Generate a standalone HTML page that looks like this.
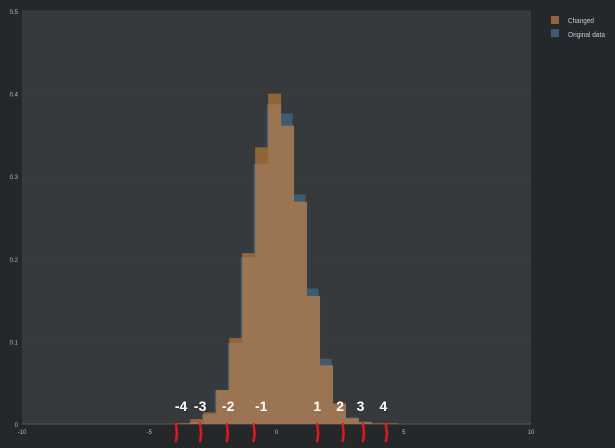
<!DOCTYPE html>
<html><head><meta charset="utf-8"><style>
body{margin:0;background:#25282b;width:615px;height:443px;overflow:hidden;font-family:"Liberation Sans",sans-serif}
</style></head><body>
<svg id="chart" width="615" height="443" xmlns="http://www.w3.org/2000/svg">
<rect x="0" y="0" width="615" height="443" fill="#25282b"/>
<rect x="22" y="11" width="509" height="413" fill="#363a3d"/>
<g id="grid"></g><g id="bars"></g><g id="axes"></g>
<g>
<rect x="551" y="16" width="8" height="8" fill="#8f6539"/>
<text x="568" y="23" fill="#c8c8c8" font-size="7" textLength="26" lengthAdjust="spacingAndGlyphs">Changed</text>
<rect x="551" y="29" width="8" height="8" fill="#3d5b73"/>
<text x="568" y="37" fill="#c8c8c8" font-size="7" textLength="37" lengthAdjust="spacingAndGlyphs">Original data</text>
</g>
<g id="annot"></g>
</svg>
<script>
const origStart=-3.96, changedStart=-3.9, binW=0.51;
const originalValues=[0.0005,0.002,0.012,0.041,0.098,0.202,0.315,0.387,0.376,0.278,0.164,0.079,0.024,0.008,0.003];
const changedValues=[0.001,0.006,0.014,0.041,0.104,0.207,0.335,0.400,0.361,0.269,0.155,0.071,0.025,0.007,0.002,0.001,0.001];
const xTicks=[-10,-5,0,5,10];
const yTicks=[0,0.1,0.2,0.3,0.4,0.5];
const yTickLabels=["0","0.1","0.2","0.3","0.4","0.5"];
const annotLabels=["-4","-3","-2","-1","1","2","3","4"];
const annotValues=[-3.75,-3,-1.9,-0.6,1.6,2.5,3.3,4.2];
const markValues=[-3.95,-3,-1.95,-0.9,1.6,2.6,3.4,4.3];
const NS="http://www.w3.org/2000/svg";
const X=v=>276.5+v*25.45, Y=v=>424-v*826;
function mk(t,a,p){const e=document.createElementNS(NS,t);for(const k in a)e.setAttribute(k,a[k]);p.appendChild(e);return e;}
const grid=document.getElementById('grid'),bars=document.getElementById('bars'),axes=document.getElementById('axes'),annot=document.getElementById('annot');
yTicks.forEach((v,i)=>{
 const l=mk('line',{x1:22,x2:531,y1:Y(v),y2:Y(v),stroke:i==0?'#55595c':'#393d40','stroke-width':1},grid);
 
 
 const t=mk('text',{x:18,y:Y(v)+3,fill:'#bbb','font-size':6,'text-anchor':'end'},axes);
 
 
 t.textContent=yTickLabels[i];
});
xTicks.forEach(v=>{
 const t=mk('text',{x:X(v),y:434,fill:'#bbb','font-size':6,'text-anchor':'middle'},axes);
 
 
 t.textContent=v;
});
originalValues.forEach((v,i)=>{
 const x0=X(origStart+i*binW),x1=X(origStart+(i+1)*binW);
 const r=mk('rect',{x:x0,y:Y(v),width:x1-x0,height:424-Y(v),fill:'#3d5b73'},bars);
 
 
});
changedValues.forEach((v,i)=>{
 const x0=X(changedStart+i*binW),x1=X(changedStart+(i+1)*binW);
 const r=mk('rect',{x:x0,y:Y(v),width:x1-x0,height:424-Y(v),fill:'#8f6539'},bars);
 
 
});
changedValues.forEach((v,i)=>{
 const c=changedStart+(i+0.5)*binW;const j=Math.floor((c-origStart)/binW);
 const o=j>=0&&j<originalValues.length?originalValues[j]:0;const m=Math.min(v,o);
 const x0=X(changedStart+i*binW),x1=X(changedStart+(i+1)*binW);
 const r=mk('rect',{x:x0,y:Y(m),width:x1-x0,height:424-Y(m),fill:'#9b7551'},bars);
 
 
});
annotLabels.forEach((s,i)=>{
 const t=mk('text',{x:X(annotValues[i]),y:411,fill:'#fff','font-size':14,'font-weight':'bold','text-anchor':'middle'},annot);
 
 
 t.textContent=s;
 const x=X(markValues[i]);
 const p=mk('path',{d:`M${x} 424 L${x+1} 434 L${x} 441`,stroke:'#e8141c','stroke-width':2.5,fill:'none','stroke-linecap':'round'},annot);
 
 
});
</script>
</body></html>
